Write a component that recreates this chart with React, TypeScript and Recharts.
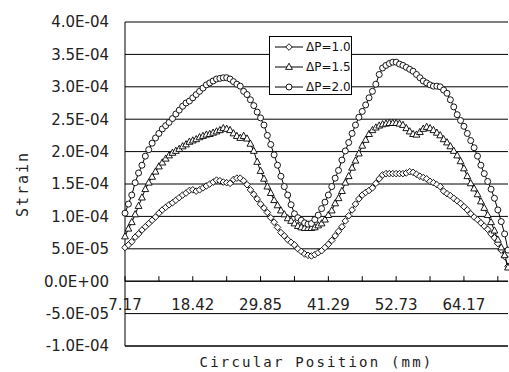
import { LineChart, Line, XAxis, YAxis, CartesianGrid, ReferenceLine, Legend, Label } from 'recharts'

// strain values in units of 1E-05, one per circular position step
const P10 = [
  5.2, 5.6, 6.1, 6.8, 7.3, 7.9, 8.4, 8.9, 9.4, 9.9,
  10.5, 11.0, 11.4, 11.8, 12.1, 12.5, 12.9, 13.3, 13.6, 14.0,
  14.1, 13.9, 14.1, 14.4, 14.7, 15.0, 15.3, 15.6, 15.5, 15.3,
  15.2, 15.1, 15.7, 15.9, 15.9, 15.5, 14.9, 14.1, 13.4, 12.7,
  11.9, 11.3, 10.6, 9.8, 9.1, 8.3, 7.5, 7.0, 6.4, 6.0,
  5.6, 5.0, 4.6, 4.2, 4.0, 3.9, 4.1, 4.4, 4.7, 5.2,
  5.7, 6.3, 7.0, 7.7, 8.4, 9.3, 10.1, 11.0, 11.9, 12.7,
  13.3, 13.7, 14.0, 14.4, 15.1, 15.8, 16.4, 16.6, 16.6, 16.6,
  16.6, 16.6, 16.6, 16.7, 16.9, 16.8, 16.5, 16.2, 16.0, 15.8,
  15.4, 15.2, 14.9, 14.6, 13.9, 13.5, 13.2, 12.8, 12.4, 12.0,
  11.5, 11.0, 10.4, 9.9, 9.5, 9.0, 8.5, 8.0, 7.3, 6.7,
  5.8, 4.8, 3.8, 2.3,
]
const P15 = [
  6.9, 8.1, 9.1, 10.3, 11.6, 12.9, 14.2, 15.2, 16.1, 16.9,
  17.7, 18.3, 18.9, 19.4, 19.8, 20.1, 20.4, 20.8, 21.1, 21.5,
  21.7, 21.9, 22.2, 22.4, 22.6, 22.7, 22.9, 23.1, 23.3, 23.6,
  23.5, 23.3, 22.8, 22.4, 22.1, 22.4, 22.0, 21.2, 20.1, 18.4,
  17.0, 15.8, 14.6, 13.6, 12.5, 11.7, 10.9, 10.3, 9.7, 9.3,
  8.9, 8.5, 8.3, 8.2, 8.2, 8.2, 8.3, 8.6, 8.9, 9.5,
  10.2, 10.9, 12.0, 12.8, 13.9, 15.2, 16.2, 17.5, 18.6, 19.7,
  20.9, 21.8, 22.7, 23.3, 23.7, 24.0, 24.2, 24.3, 24.4, 24.4,
  24.4, 24.3, 24.1, 23.6, 23.1, 22.7, 22.6, 23.0, 23.5, 23.8,
  23.6, 23.3, 22.9, 22.5, 21.9, 21.4, 20.8, 20.1, 19.4, 18.5,
  17.4, 16.2, 15.1, 14.3, 13.4, 12.3, 11.3, 10.2, 9.1, 7.8,
  6.4, 5.2, 4.0, 2.1,
]
const P20 = [
  10.5, 11.9, 13.3, 15.2, 16.7, 17.9, 19.3, 20.3, 21.3, 22.1,
  22.8, 23.5, 24.0, 24.5, 25.1, 25.8, 26.4, 27.0, 27.5, 27.8,
  28.3, 28.8, 29.3, 29.8, 30.3, 30.6, 30.9, 31.2, 31.3, 31.4,
  31.4, 31.2, 30.8, 30.4, 30.1, 29.3, 28.8, 28.0, 27.1, 26.1,
  25.2, 24.1, 22.5, 21.1, 19.5, 17.9, 16.2, 14.6, 13.3, 11.8,
  10.4, 9.8, 9.4, 9.0, 8.8, 8.9, 9.5, 10.2, 11.2, 12.2,
  13.3, 14.6, 15.9, 17.1, 18.7, 20.1, 21.4, 22.8, 24.1, 25.3,
  26.2, 27.2, 28.3, 29.3, 30.4, 31.9, 32.9, 33.3, 33.6, 33.8,
  33.8, 33.5, 33.3, 33.0, 32.7, 32.4, 31.9, 31.4, 30.9, 30.6,
  30.3, 30.1, 30.1, 30.0, 29.5, 29.0, 28.0, 26.9, 25.7, 24.8,
  23.9, 22.8, 21.7, 20.6, 19.3, 17.9, 16.6, 15.4, 14.2, 12.8,
  11.0, 9.2, 7.3, 4.8,
]

// category axis: tick every 10 steps, label every 20
const X_TICKS = [0, 10, 20, 30, 40, 50, 60, 70, 80, 90, 100, 110]
const X_LABEL_AT = [0, 20, 40, 60, 80, 100]
const X_LABELS = ['7.17', '18.42', '29.85', '41.29', '52.73', '64.17']
const Y_TICKS = [-10, -5, 0, 5, 10, 15, 20, 25, 30, 35, 40]

const SERIES = [
  { key: 'p10', name: 'ΔP=1.0', shape: 'diamond' },
  { key: 'p15', name: 'ΔP=1.5', shape: 'triangle' },
  { key: 'p20', name: 'ΔP=2.0', shape: 'circle' },
]

const data = P10.map((v, i) => ({ i, p10: v, p15: P15[i], p20: P20[i] }))

const W = 509
const H = 372
const TOP = 22
const X_AXIS_H = 26
const PLOT_H = H - TOP - X_AXIS_H
const ZERO_Y = TOP + PLOT_H * (40 / 50)
const FONT = 'DejaVu Sans'

function fmtSci(t: number) {
  if (t === 0) return '0.0E+00'
  const [m, e] = (t * 1e-5).toExponential(1).split('e')
  const n = parseInt(e, 10)
  return `${m}E${n < 0 ? '-' : '+'}${String(Math.abs(n)).padStart(2, '0')}`
}

function Marker({ shape, cx, cy }: { shape: string; cx: number; cy: number }) {
  const st = { fill: '#fff', stroke: '#000', strokeWidth: 0.9 }
  if (shape === 'diamond')
    return <path d={`M${cx},${cy - 3.3}L${cx + 3.3},${cy}L${cx},${cy + 3.3}L${cx - 3.3},${cy}Z`} {...st} />
  if (shape === 'triangle')
    return <path d={`M${cx},${cy - 3.8}L${cx + 3.4},${cy + 2.4}L${cx - 3.4},${cy + 2.4}Z`} {...st} />
  return <circle cx={cx} cy={cy} r={3} {...st} />
}

function XTick(props: any) {
  const { x, payload } = props
  const idx = X_LABEL_AT.indexOf(payload.value)
  return (
    <g>
      <line x1={x} x2={x} y1={ZERO_Y - 5} y2={ZERO_Y} stroke="#000" />
      {idx >= 0 && (
        <text x={x} y={ZERO_Y + 29} textAnchor="middle" fill="#222" fontSize={15} fontFamily={FONT}>
          {X_LABELS[idx]}
        </text>
      )}
    </g>
  )
}

const renderLegend = () => (
  <div
    style={{
      border: '1px solid #000', background: '#fff', width: 81, height: 57,
      fontFamily: FONT, fontSize: 12, color: '#111',
    }}
  >
    {SERIES.map((s) => (
      <div key={s.key} style={{ display: 'flex', alignItems: 'center', height: 20 }}>
        <svg width={35} height={12} style={{ display: 'block' }}>
          <line x1={5} x2={33} y1={6} y2={6} stroke="#000" />
          <Marker shape={s.shape} cx={19} cy={6} />
        </svg>
        <span style={{ marginLeft: 1 }}>{s.name}</span>
      </div>
    ))}
  </div>
)

export default function App() {
  return (
    <div style={{ position: 'absolute', left: 0, top: 0, width: W, height: H, background: '#fff', fontFamily: FONT }}>
      <LineChart width={W} height={H} data={data} margin={{ top: TOP, right: 1, left: 0, bottom: 0 }}>
        <CartesianGrid vertical={false} stroke="#000" strokeWidth={1} />
        <XAxis
          type="number"
          dataKey="i"
          domain={[0, 113]}
          ticks={X_TICKS}
          interval={0}
          height={X_AXIS_H}
          axisLine={{ stroke: '#000' }}
          tickLine={false}
          tick={<XTick />}
          label={
            <Label
              content={(p: any) => {
                const vb = p.viewBox
                return (
                  <text
                    x={vb.x + vb.width / 2}
                    y={367}
                    textAnchor="middle"
                    fill="#222"
                    fontSize={14}
                    letterSpacing={2.2}
                    fontFamily="DejaVu Sans Mono"
                  >
                    Circular Position (mm)
                  </text>
                )
              }}
            />
          }
        />
        <YAxis
          type="number"
          domain={[-10, 40]}
          ticks={Y_TICKS}
          interval={0}
          width={125}
          axisLine={{ stroke: '#000' }}
          tickLine={false}
          tickSize={0}
          tickMargin={16}
          tick={{ fill: '#222', fontSize: 15, fontFamily: FONT }}
          tickFormatter={fmtSci}
          label={
            <Label
              content={(p: any) => {
                const vb = p.viewBox
                const cy = vb.y + vb.height / 2
                return (
                  <text
                    x={23}
                    y={cy}
                    transform={`rotate(-90, 23, ${cy})`}
                    textAnchor="middle"
                    dominantBaseline="central"
                    fill="#222"
                    fontSize={15}
                    letterSpacing={2}
                    fontFamily="DejaVu Sans Mono"
                  >
                    Strain
                  </text>
                )
              }}
            />
          }
        />
        <ReferenceLine y={0} stroke="#000" />
        <Legend
          layout="horizontal"
          verticalAlign="middle"
          align="center"
          wrapperStyle={{ left: 269, top: 36, width: 83, height: 59 }}
          content={renderLegend}
        />
        {SERIES.map((s) => (
          <Line
            key={s.key}
            type="linear"
            dataKey={s.key}
            name={s.name}
            stroke="#000"
            strokeWidth={1}
            isAnimationActive={false}
            dot={(p: any) => <Marker key={`${s.key}-${p.index}`} shape={s.shape} cx={p.cx} cy={p.cy} />}
            activeDot={false}
          />
        ))}
      </LineChart>
    </div>
  )
}
